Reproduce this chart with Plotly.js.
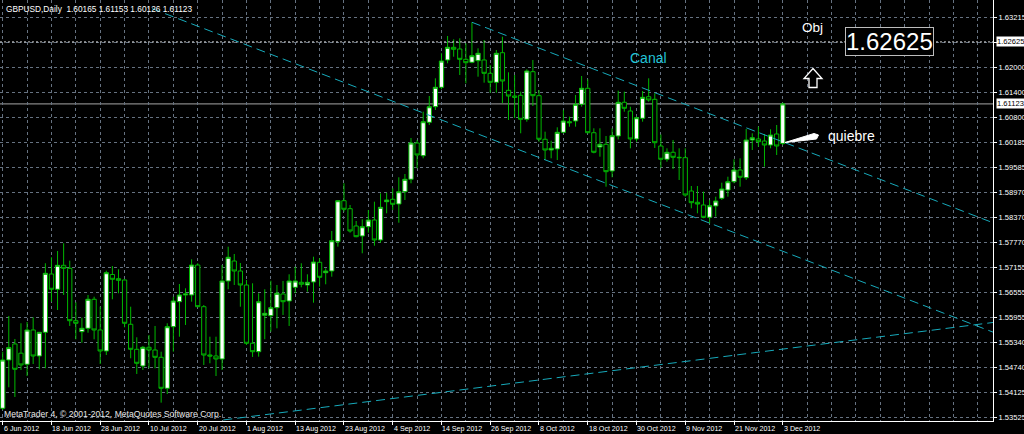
<!DOCTYPE html>
<html><head><meta charset="utf-8">
<script src="https://cdn.plot.ly/plotly-3.0.1.min.js"></script>
<style>html,body{margin:0;padding:0;background:#000;overflow:hidden}#chart{width:1024px;height:434px}</style>
</head><body><div id="chart"></div>
<script>
// ---------- data ----------
const symbol = 'GBPUSD';
const timeframe = 'Daily';
const opens = [1.53749,1.54919,1.55307,1.55084,1.54815,1.55646,1.55016,1.55590,1.57002,1.56632,
1.57213,1.57140,1.55871,1.55605,1.55687,1.56390,1.55646,1.55137,1.56990,1.56889,
1.56857,1.55784,1.55178,1.54774,1.55227,1.55161,1.54984,1.54233,1.55726,1.56331,
1.56494,1.56494,1.57220,1.56210,1.55040,1.55016,1.54943,1.56833,1.57317,1.57075,
1.56736,1.55324,1.55120,1.56002,1.55992,1.56186,1.56518,1.56348,1.56680,1.56801,
1.56736,1.56809,1.57286,1.57034,1.57075,1.57785,1.58778,1.58584,1.58165,1.57923,
1.58148,1.58310,1.57826,1.58754,1.58812,1.58698,1.58996,1.59297,1.60176,1.59868,
1.60677,1.61055,1.61525,1.62187,1.62494,1.62453,1.62203,1.62131,1.62170,1.62187,
1.61864,1.61646,1.62363,1.61452,1.61314,1.61331,1.60750,1.61903,1.61322,1.60266,
1.60006,1.60031,1.60435,1.60692,1.60709,1.61113,1.61501,1.60425,1.60079,1.60144,
1.59498,1.60346,1.61162,1.60951,1.60273,1.60774,1.61297,1.61234,1.60103,1.59781,
1.59951,1.59829,1.59820,1.59013,1.58739,1.58674,1.58376,1.58650,1.58836,1.59037,
1.59238,1.59522,1.59335,1.60249,1.60273,1.60224,1.60127,1.60394,1.60165];
const highs = [1.55120,1.55985,1.55428,1.55808,1.55840,1.55953,1.55597,1.57262,1.57407,1.57560,
1.57746,1.57325,1.56317,1.55944,1.56494,1.56452,1.56210,1.57082,1.57196,1.57116,
1.56874,1.56210,1.55469,1.55258,1.55525,1.55743,1.55120,1.55808,1.56452,1.56760,
1.56656,1.57358,1.57262,1.56251,1.55483,1.55483,1.57220,1.57664,1.57487,1.57269,
1.56857,1.56777,1.56535,1.56632,1.56840,1.56736,1.56833,1.56995,1.57179,1.57262,
1.56995,1.57421,1.57383,1.57140,1.58044,1.58795,1.59200,1.58674,1.58286,1.58327,
1.58553,1.58754,1.58957,1.58972,1.59078,1.59345,1.59425,1.60297,1.60249,1.60934,
1.61314,1.61743,1.62349,1.62768,1.62688,1.62712,1.62591,1.63100,1.62470,1.62671,
1.62065,1.62429,1.62751,1.61888,1.61823,1.61419,1.61961,1.62187,1.61460,1.60450,
1.60232,1.60556,1.60975,1.60813,1.61339,1.61799,1.61719,1.60532,1.60532,1.60345,
1.60532,1.61443,1.61419,1.61055,1.60813,1.61436,1.61743,1.61380,1.60382,1.60047,
1.60249,1.60047,1.60047,1.59134,1.59134,1.58996,1.58795,1.58875,1.59214,1.59359,
1.59781,1.59805,1.60515,1.60411,1.60571,1.60394,1.60508,1.60612,1.61153];
const lows = [1.53708,1.54258,1.54023,1.54677,1.54531,1.54822,1.54694,1.54718,1.56331,1.56130,
1.56494,1.55743,1.55421,1.55338,1.55580,1.55421,1.54822,1.55040,1.56390,1.56535,
1.55711,1.54960,1.54580,1.54677,1.54718,1.54718,1.53885,1.54095,1.55120,1.55483,
1.55767,1.56331,1.56196,1.54798,1.54839,1.54531,1.54677,1.56632,1.56736,1.56210,
1.55282,1.54992,1.54999,1.55421,1.55605,1.55687,1.56009,1.55743,1.56535,1.56680,
1.56574,1.56307,1.56695,1.56753,1.56937,1.57664,1.58512,1.58003,1.57891,1.57504,
1.58003,1.57688,1.57761,1.58473,1.58553,1.58245,1.58795,1.59200,1.59563,1.59805,
1.60612,1.60975,1.61477,1.62107,1.62266,1.61823,1.61622,1.62107,1.61782,1.61637,
1.61394,1.61394,1.61138,1.60733,1.60781,1.60411,1.60692,1.61072,1.60207,1.59764,
1.59805,1.59764,1.60411,1.60571,1.60571,1.61055,1.60411,1.59926,1.59844,1.59117,
1.59345,1.60261,1.60934,1.60047,1.60207,1.60692,1.61176,1.60055,1.59575,1.59723,
1.59546,1.59280,1.58875,1.58594,1.58473,1.58352,1.58231,1.58390,1.58795,1.58875,
1.59200,1.59117,1.59280,1.60006,1.60086,1.59602,1.60047,1.59885,1.60126];
const closes = [1.54919,1.55219,1.54694,1.54798,1.55646,1.55016,1.55590,1.57019,1.56632,1.57213,
1.57140,1.55871,1.55808,1.55687,1.56390,1.55646,1.55137,1.57034,1.56874,1.56850,
1.55808,1.55178,1.54839,1.55227,1.55161,1.54984,1.54233,1.55726,1.56348,1.56494,
1.56518,1.57220,1.56210,1.55040,1.55016,1.54943,1.56833,1.57407,1.57075,1.56736,
1.55324,1.55120,1.56331,1.56050,1.56186,1.56535,1.56331,1.56833,1.56833,1.56753,
1.56801,1.57293,1.56922,1.57075,1.57809,1.58778,1.58570,1.58044,1.57906,1.58148,
1.58310,1.57826,1.58618,1.58795,1.58691,1.58996,1.59297,1.60176,1.59885,1.60692,
1.61055,1.61525,1.62162,1.62494,1.62446,1.62203,1.62121,1.62291,1.62349,1.61864,
1.61646,1.62349,1.61678,1.61314,1.61283,1.60750,1.61920,1.61322,1.60266,1.60006,
1.60047,1.60435,1.60709,1.60668,1.61113,1.61501,1.60425,1.59951,1.60144,1.59481,
1.60353,1.61162,1.61016,1.60273,1.60789,1.61283,1.61218,1.60183,1.59781,1.59951,
1.59829,1.59820,1.58916,1.58730,1.58698,1.58376,1.58657,1.58771,1.59062,1.59238,
1.59522,1.59345,1.60249,1.60304,1.60207,1.60127,1.60370,1.60103,1.61123];
const xTickLabels = ['6 Jun 2012','18 Jun 2012','28 Jun 2012','10 Jul 2012','20 Jul 2012','1 Aug 2012',
'13 Aug 2012','23 Aug 2012','4 Sep 2012','14 Sep 2012','26 Sep 2012','8 Oct 2012','18 Oct 2012',
'30 Oct 2012','9 Nov 2012','21 Nov 2012','3 Dec 2012'];
const barsPerLabel = 8;
const yTickValues = [1.63215,1.62605,1.62000,1.61400,1.60800,1.60185,1.59585,1.58970,1.58370,
1.57770,1.57155,1.56555,1.55955,1.55340,1.54740,1.54125,1.53525];
const hiddenTick = 1.62605;
const objectiveLevel = 1.62625;
// trend lines: [bar index, price] end points
const upperChannel = {x:[77, 162.5], y:[1.63100, 1.58244]};
const lowerChannel = {x:[24.5, 162.5], y:[1.63432, 1.55594]};
const risingLine   = {x:[36.2, 162.5], y:[1.53466, 1.55828]};
const canalLabel = {x:105.9, y:1.62247, text:'Canal'};
const copyright = 'MetaTrader 4, \u00a9 2001-2012, MetaQuotes Software Corp.';

// ---------- styling ----------
const FONT = 'Liberation Sans, Arial, sans-serif';
const HEAD = 8.3, XLAB = 7.1, YLAB = 7.6;
const GREEN = '#00b800';
const CYAN = '#17aabb';
const GRID = '#667281';
const PW = 993, PH = 421; // plot area size in px
const px = x => x / PW, py = y => 1 - y / PH;
function pathPx(pts){ return 'M' + pts.map(p => px(p[0]) + ',' + py(p[1])).join(' L') + ' Z'; }

const n = closes.length;
const bidPrice = closes[n-1];
const xs = closes.map((_, i) => i);
const tickVals = xTickLabels.map((_, i) => i * barsPerLabel);

const trace = {
  type:'candlestick', x:xs, open:opens, high:highs, low:lows, close:closes,
  increasing:{line:{color:GREEN, width:1}, fillcolor:'#ffffff'},
  decreasing:{line:{color:GREEN, width:1}, fillcolor:'#000000'},
  whiskerwidth:0, hoverinfo:'skip', showlegend:false
};

function tline(l){ return {type:'line', xref:'x', yref:'y', x0:l.x[0], y0:l.y[0], x1:l.x[1], y1:l.y[1],
  line:{color:CYAN, width:1, dash:'9px,5px'}, layer:'above'}; }

const shapes = [
  {type:'line', xref:'paper', yref:'y', x0:0, x1:1, y0:bidPrice, y1:bidPrice, line:{color:'#858585', width:1.4}, layer:'between'},
  {type:'line', xref:'paper', yref:'y', x0:0, x1:1, y0:objectiveLevel, y1:objectiveLevel, line:{color:'#d0d0d0', width:1, dash:'2px,2px'}, layer:'above'},
  tline(upperChannel), tline(lowerChannel), tline(risingLine),
  {type:'path', xref:'paper', yref:'paper', path:pathPx([[813,68.5],[822,78.5],[817,78.5],[817,87.5],[809,87.5],[809,78.5],[804,78.5]]),
    line:{color:'#ffffff', width:1.3}, fillcolor:'#000000', layer:'above'},
  {type:'path', xref:'paper', yref:'paper', path:pathPx([[785,142.5],[814,133.5],[818.5,135],[816.5,139]]),
    line:{color:'#ffffff', width:1}, fillcolor:'#ffffff', layer:'above'}
];

const f5 = v => v.toFixed(5);
const header = symbol + ',' + timeframe + '\u00a0\u00a0' + [opens[n-1], highs[n-1], lows[n-1], closes[n-1]].map(f5).join(' ');

const annotations = [
  {xref:'paper', yref:'paper', x:px(4), y:py(1.5), xanchor:'left', yanchor:'top', text:header, showarrow:false,
    font:{family:FONT, size:HEAD, color:'#ffffff'}},
  {xref:'paper', yref:'paper', x:px(2), y:py(421), xanchor:'left', yanchor:'bottom', text:copyright, showarrow:false,
    font:{family:FONT, size:8.6, color:'#e8e8e8'}},
  {xref:'x', yref:'y', x:canalLabel.x, y:canalLabel.y, xanchor:'center', yanchor:'middle', text:canalLabel.text, showarrow:false,
    font:{family:FONT, size:14, color:'#22c4d8'}},
  {xref:'paper', yref:'paper', x:px(812.5), y:py(27.5), xanchor:'center', yanchor:'middle', text:'Obj', showarrow:false,
    font:{family:FONT, size:13.5, color:'#ffffff'}},
  {xref:'paper', yref:'y', x:px(889), y:objectiveLevel, xanchor:'center', yanchor:'middle', text:f5(objectiveLevel), showarrow:false,
    font:{family:FONT, size:24, color:'#ffffff'}, bgcolor:'#000000', bordercolor:'#bdbdbd', borderwidth:1, borderpad:0},
  {xref:'paper', yref:'paper', x:px(825.7), y:py(136), xanchor:'left', yanchor:'middle', text:'quiebre', showarrow:false,
    font:{family:FONT, size:14, color:'#ffffff'}},
  {xref:'paper', yref:'y', x:1, xshift:3, xanchor:'left', yanchor:'middle', y:objectiveLevel, text:f5(objectiveLevel), showarrow:false,
    font:{family:FONT, size:YLAB, color:'#000000'}, bgcolor:'#ffffff', borderpad:0},
  {xref:'paper', yref:'y', x:1, xshift:3, xanchor:'left', yanchor:'middle', y:bidPrice, text:f5(bidPrice), showarrow:false,
    font:{family:FONT, size:YLAB, color:'#000000'}, bgcolor:'#ffffff', borderpad:0}
];
// x-axis date labels, left-aligned at their tick like MetaTrader
xTickLabels.forEach((t, i) => annotations.push({xref:'x', yref:'paper', x:tickVals[i], y:py(423), xanchor:'left', yanchor:'top',
  xshift:-1, text:t, showarrow:false, font:{family:FONT, size:XLAB, color:'#ffffff'}}));

const layout = {
  width:1024, height:434, margin:{l:0, r:31, t:0, b:13, pad:0},
  paper_bgcolor:'#000000', plot_bgcolor:'#000000', showlegend:false,
  boxgap:0.3, boxgroupgap:0,
  xaxis:{range:[-0.443, 162.5], rangeslider:{visible:false}, tickmode:'array', tickvals:tickVals, ticktext:xTickLabels,
    showticklabels:false, ticks:'outside', ticklen:3, tickcolor:'#ffffff', tickwidth:1,
    showline:true, linecolor:'#ffffff', linewidth:1,
    showgrid:true, gridcolor:GRID, gridwidth:1, griddash:'3px,3px', zeroline:false, fixedrange:true,
    minor:{tickmode:'linear', tick0:0, dtick:4, showgrid:true, gridcolor:GRID, gridwidth:1, griddash:'3px,3px', ticks:''}},
  yaxis:{range:[1.53441, 1.63640], side:'right', tickmode:'array', tickvals:yTickValues,
    ticktext:yTickValues.map(v => v === hiddenTick ? '' : f5(v)),
    ticks:'outside', ticklen:3, tickcolor:'#ffffff', tickwidth:1,
    tickfont:{family:FONT, size:YLAB, color:'#ffffff'}, showline:true, linecolor:'#ffffff', linewidth:1,
    showgrid:true, gridcolor:GRID, gridwidth:1, griddash:'3px,3px', zeroline:false, fixedrange:true},
  shapes:shapes, annotations:annotations
};

Plotly.newPlot('chart', [trace], layout, {staticPlot:true, displayModeBar:false});
</script></body></html>
